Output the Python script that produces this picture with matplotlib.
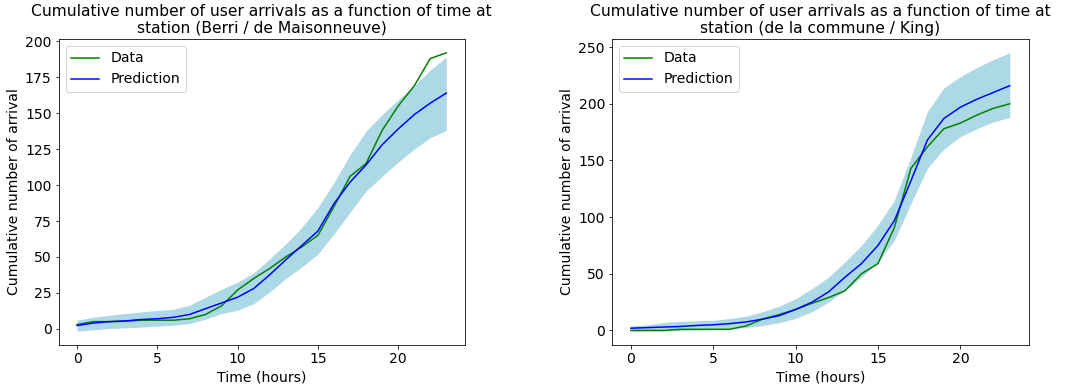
import numpy as np
import matplotlib
matplotlib.use("Agg")
import matplotlib.pyplot as plt

hours = list(range(24))

# Station 1: Berri / de Maisonneuve
berri_data = [3, 5, 5, 5.3, 6, 6, 6, 7, 10, 16, 27, 35, 42, 50, 57, 65,
              85, 106, 115, 138, 155, 169, 188, 192]
berri_pred = [2.3, 4, 5, 5.5, 6.5, 7, 8, 10, 14, 18, 22, 28, 37.6, 48, 58, 68,
              87, 102, 114, 128, 139, 149, 157, 164]
berri_upper = [6, 8, 9.5, 10.6, 11.8, 12.7, 13.6, 16.4, 22, 27.5, 32.5, 39,
               48.7, 59, 70.6, 84.4, 101.7, 121, 137.5, 149, 159.4, 169, 180, 189]
berri_lower = [-1.6, -0.7, 0.2, 0.7, 1.2, 1.8, 2.5, 3.7, 6.7, 10.6, 13, 17.5,
               25.6, 35, 43, 52, 66, 81, 96, 106, 116, 125, 133, 138]

# Station 2: de la commune / King
king_data = [0, 0, 0, 1, 1, 1, 1, 4, 10, 14, 18.5, 24, 29, 35, 50, 59,
             91, 143, 162, 178, 183, 190, 196, 200]
king_pred = [2, 2.5, 3, 3.5, 4.4, 5, 6, 7.5, 10, 13, 18.5, 25, 34, 47, 59, 75,
             97, 132, 168, 187, 197, 204, 210, 216]
king_upper = [4, 5, 7, 8, 8.5, 9, 10.5, 12.6, 16.5, 21.4, 28, 37, 47, 60.5,
              75, 93, 115, 153, 193, 214, 224, 232, 239, 245]
king_lower = [-0.6, -0.5, -0.3, 0, 0.3, 0.6, 1.5, 2.6, 4.4, 6.8, 10.6, 16.5,
              25, 35.5, 47, 60.5, 79.6, 112, 143, 160, 171, 178, 184, 188]

stations = [
    ("Berri / de Maisonneuve", berri_data, berri_pred, berri_lower, berri_upper),
    ("de la commune / King", king_data, king_pred, king_lower, king_upper),
]

plt.rcParams['font.size'] = 14

fig = plt.figure(figsize=(1066 / 72, 389 / 72), dpi=72)
positions = [[0.055, 0.113, 0.381, 0.787], [0.574, 0.113, 0.391, 0.787]]

for pos, (name, data, pred, lower, upper) in zip(positions, stations):
    ax = fig.add_axes(pos)
    ax.fill_between(hours, lower, upper, color="lightblue", linewidth=0)
    ax.plot(hours, data, color="green", linewidth=1.5, label="Data")
    ax.plot(hours, pred, color="blue", linewidth=1.5, label="Prediction")
    ax.set_title("Cumulative number of user arrivals as a function of time at\n"
                 "station (" + name + ")", fontsize=15.5)
    ax.set_xlabel("Time (hours)")
    ax.set_ylabel("Cumulative number of arrival")
    ax.set_xticks([0, 5, 10, 15, 20])
    ax.legend(loc="upper left")

fig.savefig("out.png", dpi=72)
